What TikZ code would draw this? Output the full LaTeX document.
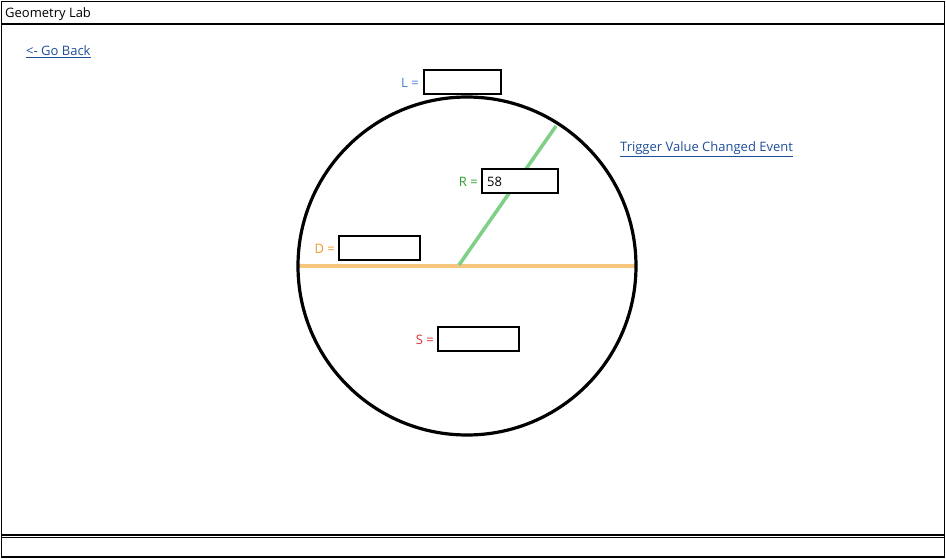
\documentclass[tikz,border=0pt]{standalone}
\usepackage{fontspec}
\setmainfont{Open Sans}
\definecolor{linkblue}{HTML}{1F4E99}
\definecolor{lblue}{HTML}{4A7FDB}
\definecolor{lgreen}{HTML}{2E9E2E}
\definecolor{greenline}{HTML}{7FCF86}
\definecolor{orangeline}{HTML}{F7C57C}
\definecolor{lorange}{HTML}{F59A2E}
\definecolor{lred}{HTML}{D9312E}
\begin{document}
\begin{tikzpicture}[x=1pt,y=-1pt,
  txt/.style={font=\fontsize{13}{15}\selectfont,inner sep=0pt},
  link/.style={txt,text=linkblue,anchor=west},
  field/.style={draw=black,line width=1.8pt,minimum width=#1,minimum height=24pt,inner sep=0pt,anchor=west},
  eqlabel/.style={txt,anchor=east}]
\useasboundingbox (0,0) rectangle (946,559);
\fill[white] (0,0) rectangle (946,559);
% frame
\draw[line width=1.6pt] (1.5,1.5) rectangle (944.5,557);
\draw[line width=1.6pt] (1.5,24) -- (944.5,24);
\draw[line width=1.6pt] (1.5,535) -- (944.5,535);
\draw[line width=1pt] (1.5,537) -- (944.5,537);
\node[txt,anchor=west] (title) at (5,14) {Geometry Lab};
% links
\node[link] (back) at (26,51.5) {\underline{<- Go Back}};
\node[link] (trig) at (620,149) {\underline{Trigger Value Changed Event}};
% circle
\coordinate (c) at (467,266);
\coordinate (dl) at (298,266);
\coordinate (dr) at (636,266);
\coordinate (rs) at (459,265);
\coordinate (re) at (556,126);
\draw[orangeline,line width=3.5pt] (dl) -- (dr);
\draw[greenline,line width=3.5pt] (rs) -- (re);
\draw[line width=3.2pt] (c) circle (169);
% fields
\node[field=77pt] (lbox) at (423,82) {};
\node[eqlabel,text=lblue] (llab) at ([xshift=-4pt,yshift=-1pt]lbox.west) {L =};
\node[field=76pt,fill=white] (rbox) at (481,181) {};
\node[txt,anchor=west] (rval) at ([xshift=6pt,yshift=-1pt]rbox.west) {58};
\node[eqlabel,text=lgreen] (rlab) at ([xshift=-3pt,yshift=-1pt]rbox.west) {R =};
\node[field=81pt] (dbox) at (338,248) {};
\node[eqlabel,text=lorange] (dlab) at ([xshift=-3pt,yshift=-1pt]dbox.west) {D =};
\node[field=81pt] (sbox) at (437,339) {};
\node[eqlabel,text=lred] (slab) at ([xshift=-3pt,yshift=-1pt]sbox.west) {S =};
\end{tikzpicture}
\end{document}
